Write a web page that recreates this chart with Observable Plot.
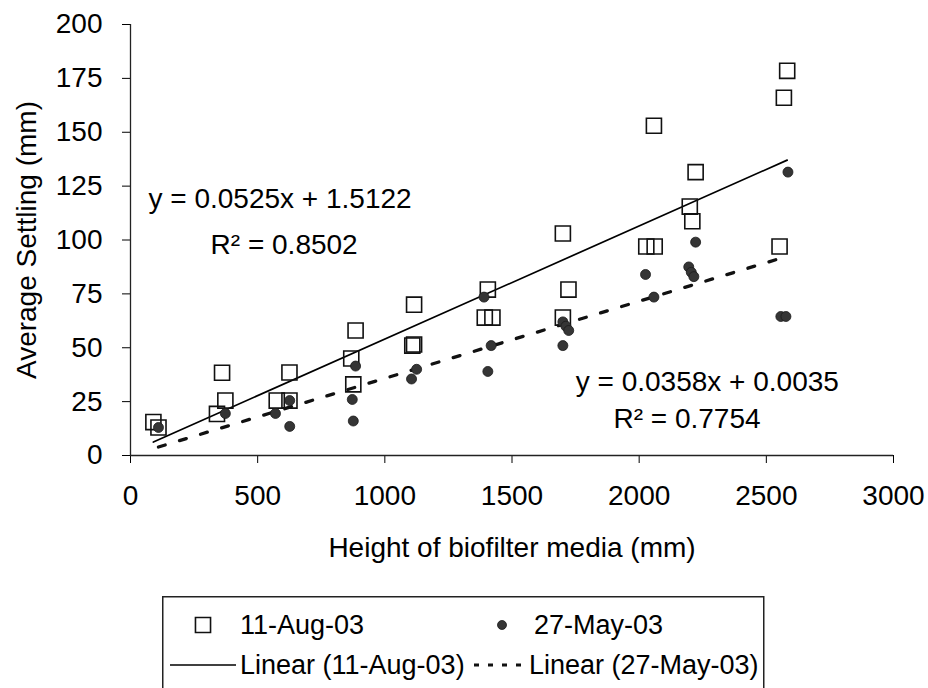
<!DOCTYPE html>
<html>
<head>
<meta charset="utf-8">
<script src="https://cdn.jsdelivr.net/npm/d3@7"></script>
<script src="https://cdn.jsdelivr.net/npm/@observablehq/plot@0.6"></script>
<style>
  body { margin: 0; background: #fff; }
  #wrap { position: relative; width: 928px; height: 688px; overflow: hidden; background: #fff;
          font-family: "Liberation Sans", Arial, sans-serif; }
  #legend { position: absolute; left: 162px; top: 596px; }
</style>
</head>
<body>
<div id="wrap"><div id="chart"></div><div id="legend"></div></div>
<script>
// ---- data ----
const seriesNames = ["11-Aug-03", "27-May-03"];

// 11-Aug-03 (open squares)
const augX = [90, 110, 340, 360, 373, 575, 625, 625, 868, 876, 885, 1108, 1115, 1115, 1393, 1405, 1423, 1700, 1700, 1722, 2028, 2058, 2061, 2199, 2209, 2222, 2552, 2569, 2582];
const augY = [15.5, 13, 19.3, 38.4, 25.5, 25.5, 38.5, 25.5, 45, 33, 58, 51, 51.5, 70, 64, 77, 64, 64, 103, 77, 97, 153, 97, 115.5, 108.7, 131.5, 97, 166, 178.5];

// 27-May-03 (filled circles)
const mayX = [110, 373, 570, 626, 626, 872, 876, 885, 1105, 1125, 1390, 1405, 1418, 1700, 1700, 1712, 1723, 2025, 2058, 2195, 2205, 2215, 2222, 2557, 2577, 2585];
const mayY = [13, 19.5, 19.5, 13.5, 25.5, 26, 16, 41.5, 35.5, 40, 73.5, 39, 51, 51, 62, 60, 58, 84, 73.5, 87.5, 85, 83, 99, 64.5, 64.5, 131.5];

// linear trend lines (Excel)
const slopes = [0.0525, 0.0358];
const intercepts = [1.5122, 0.0035];
const r2s = ["0.8502", "0.7754"];
const interceptLabels = ["1.5122", "0.0035"];

// equation label anchor positions (data units)
const eqX = [588, 604, 2268, 2188];
const eqY = [119, 97.5, 34, 17];

const xTicks = [0, 500, 1000, 1500, 2000, 2500, 3000];
const yTicks = [0, 25, 50, 75, 100, 125, 150, 175, 200];
const xTitle = "Height of biofilter media (mm)";
const yTitle = "Average Settling (mm)";

// ---- derived tables ----
const aug = augX.map((x, i) => ({x, y: augY[i]}));
const may = mayX.map((x, i) => ({x, y: mayY[i]}));
const trend = (xs, k) => d3.extent(xs).map(x => ({x, y: slopes[k] * x + intercepts[k]}));
const trendAug = trend(augX, 0);
const trendMay = trend(mayX, 1);
const eqText = [
  `y = ${slopes[0]}x + ${interceptLabels[0]}`, `R² = ${r2s[0]}`,
  `y = ${slopes[1]}x + ${interceptLabels[1]}`, `R² = ${r2s[1]}`
];
const eqs = eqText.map((t, i) => ({t, x: eqX[i], y: eqY[i]}));

const FONT = "'Liberation Sans', Arial, sans-serif";

const chart = Plot.plot({
  width: 928,
  height: 590,
  marginLeft: 130,
  marginRight: 35,
  marginTop: 24,
  marginBottom: 135,
  style: {fontFamily: FONT, fontSize: "28px", color: "#000", background: "#fff", overflow: "visible"},
  x: {domain: [0, 3000], ticks: xTicks, tickSize: 8, tickPadding: 22, tickFormat: d => String(d), label: null},
  y: {domain: [0, 200], ticks: yTicks, tickSize: 8, tickPadding: 20, tickFormat: d => String(d), label: null},
  marks: [
    Plot.ruleY([0], {stroke: "#222", strokeWidth: 1.3}),
    Plot.ruleX([0], {stroke: "#222", strokeWidth: 1.3}),
    Plot.line(trendAug, {x: "x", y: "y", stroke: "#000", strokeWidth: 1.7}),
    Plot.line(trendMay, {x: "x", y: "y", stroke: "#111", strokeWidth: 3.3, strokeDasharray: "7,15"}),
    Plot.dot(aug, {x: "x", y: "y", symbol: "square", r: 8.5, stroke: "#111", strokeWidth: 1.6, fill: "none"}),
    Plot.dot(may, {x: "x", y: "y", r: 5, fill: "#353535", stroke: "#1a1a1a", strokeWidth: 0.8}),
    Plot.text(eqs, {x: "x", y: "y", text: "t", fill: "#000"}),
    Plot.text([yTitle], {text: d => d, frameAnchor: "left", textAnchor: "middle", lineAnchor: "middle", dx: -103, rotate: -90, fill: "#000"}),
    Plot.text([xTitle], {text: d => d, frameAnchor: "bottom", textAnchor: "middle", lineAnchor: "middle", dy: 93, fill: "#000"})
  ]
});
document.getElementById("chart").appendChild(chart);

// ---- legend (boxed, two columns, like Excel) ----
const lg = d3.select("#legend").append("svg")
  .attr("width", 604).attr("height", 100)
  .style("font-family", FONT).style("font-size", "27px").style("display", "block");
lg.append("rect").attr("x", 0.75).attr("y", 0.75).attr("width", 601).attr("height", 120)
  .attr("fill", "#fff").attr("stroke", "#222").attr("stroke-width", 1.5);
const row1 = 29, row2 = 69;
// col 1
lg.append("path").attr("d", d3.symbol(d3.symbolSquare, 8.5 * 8.5 * Math.PI)())
  .attr("transform", `translate(41,${row1})`).attr("fill", "none").attr("stroke", "#111").attr("stroke-width", 1.6);
lg.append("text").attr("x", 78).attr("y", row1).attr("dy", "0.35em").text(seriesNames[0]);
lg.append("line").attr("x1", 8).attr("x2", 74).attr("y1", row2).attr("y2", row2).attr("stroke", "#000").attr("stroke-width", 1.7);
lg.append("text").attr("x", 78).attr("y", row2).attr("dy", "0.35em").text(`Linear (${seriesNames[0]})`);
// col 2
lg.append("circle").attr("cx", 340).attr("cy", row1).attr("r", 4.5).attr("fill", "#353535").attr("stroke", "#1a1a1a").attr("stroke-width", 0.8);
lg.append("text").attr("x", 372).attr("y", row1).attr("dy", "0.35em").text(seriesNames[1]);
lg.append("line").attr("x1", 312).attr("x2", 364).attr("y1", row2).attr("y2", row2)
  .attr("stroke", "#111").attr("stroke-width", 3).attr("stroke-dasharray", "5,9");
lg.append("text").attr("x", 367).attr("y", row2).attr("dy", "0.35em").text(`Linear (${seriesNames[1]})`);
</script>
</body>
</html>
